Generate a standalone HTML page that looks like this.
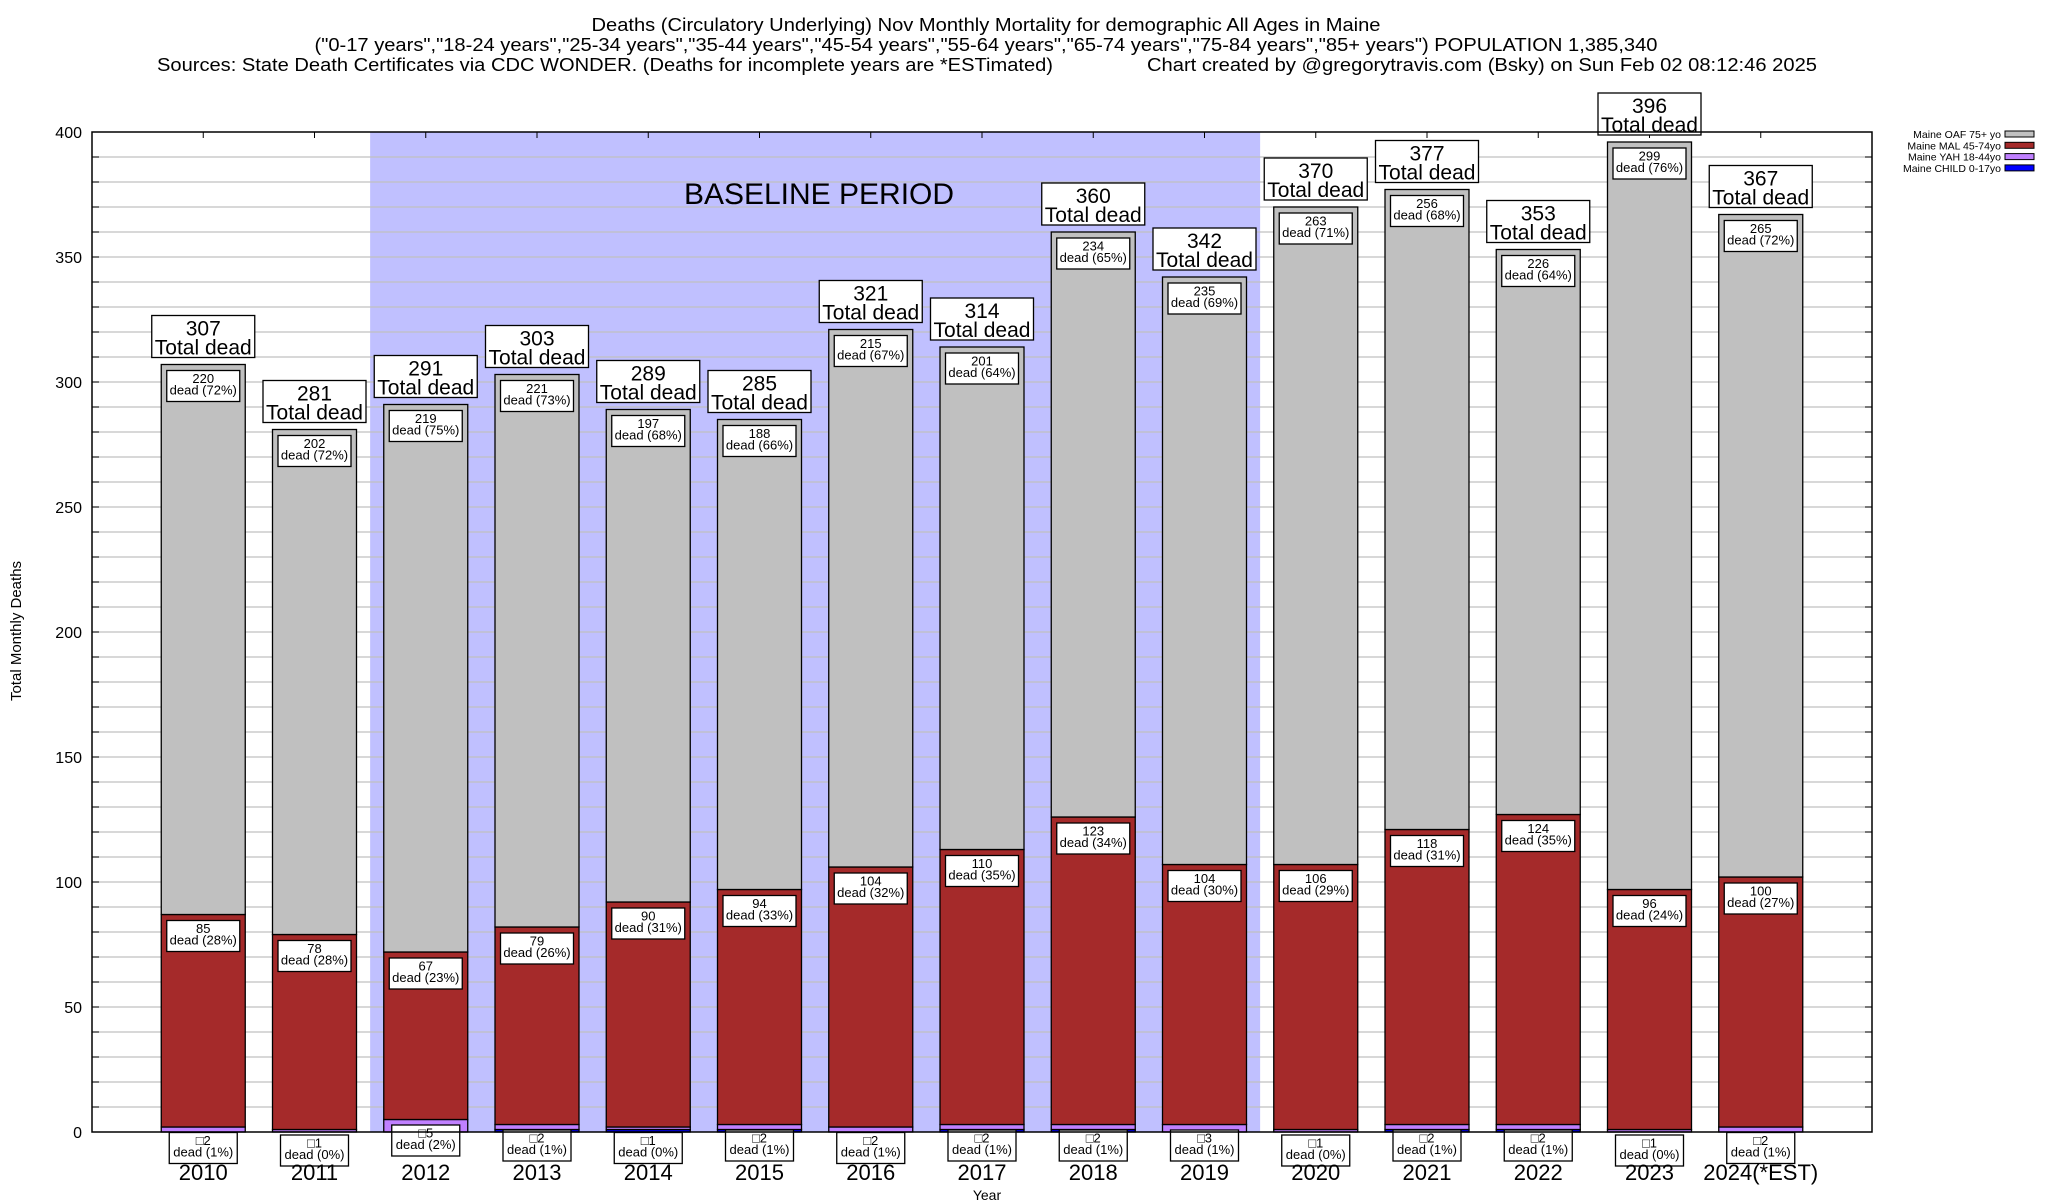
<!DOCTYPE html>
<html><head><meta charset="utf-8"><style>
html,body{margin:0;padding:0;background:#fff}
svg{display:block;font-family:"Liberation Sans",sans-serif}
</style></head><body>
<svg id="chart" width="2048" height="1200" viewBox="0 0 2048 1200" xmlns="http://www.w3.org/2000/svg">
<g>
<text x="986" y="31" font-size="18" text-anchor="middle" textLength="789" lengthAdjust="spacingAndGlyphs">Deaths (Circulatory Underlying) Nov Monthly Mortality for demographic All Ages in Maine</text>
<text x="986" y="51" font-size="18" text-anchor="middle" textLength="1343" lengthAdjust="spacingAndGlyphs">("0-17 years","18-24 years","25-34 years","35-44 years","45-54 years","55-64 years","65-74 years","75-84 years","85+ years") POPULATION 1,385,340</text>
<text x="157" y="71" font-size="18" textLength="896" lengthAdjust="spacingAndGlyphs">Sources: State Death Certificates via CDC WONDER. (Deaths for incomplete years are *ESTimated)</text>
<text x="1147" y="71" font-size="18" textLength="670" lengthAdjust="spacingAndGlyphs">Chart created by @gregorytravis.com (Bsky) on Sun Feb 02 08:12:46 2025</text>
</g>
<g id="plot"></g>
<text x="987" y="1200" font-size="14" text-anchor="middle">Year</text>
<text transform="translate(21,631) rotate(-90)" font-size="15" text-anchor="middle">Total Monthly Deaths</text>
</svg>
<script>
const years = ["2010","2011","2012","2013","2014","2015","2016","2017","2018","2019","2020","2021","2022","2023","2024(*EST)"];
const child = [0,0,0,1,1,1,0,1,1,0,0,1,1,0,0];
const yah = [2,1,5,2,1,2,2,2,2,3,1,2,2,1,2];
const mal = [85,78,67,79,90,94,104,110,123,104,106,118,124,96,100];
const oaf = [220,202,219,221,197,188,215,201,234,235,263,256,226,299,265];
const totals = [307,281,291,303,289,285,321,314,360,342,370,377,353,396,367];
const yahPct = ["1%","0%","2%","1%","0%","1%","1%","1%","1%","1%","0%","1%","1%","0%","1%"];
const malPct = ["28%","28%","23%","26%","31%","33%","32%","35%","34%","30%","29%","31%","35%","24%","27%"];
const oafPct = ["72%","72%","75%","73%","68%","66%","67%","64%","65%","69%","71%","68%","64%","76%","72%"];
const yTicks = [0,50,100,150,200,250,300,350,400];
const baselineStart = 2, baselineEnd = 9;

const NS="http://www.w3.org/2000/svg";
const L=92,R=1872,T=132,B=1132;
const slot=(R-L)/(years.length+1);
const xc=i=>L+slot*(i+1);
const y=v=>B-(v/400)*(B-T);
const bw=84;
const plot=document.getElementById('plot');
function mk(tag,attrs,parent,txt){const e=document.createElementNS(NS,tag);for(const k in attrs)e.setAttribute(k,attrs[k]);if(txt!==undefined)e.textContent=txt;(parent||plot).appendChild(e);return e;}

const bs=mk('rect',{x:xc(baselineStart)-slot/2,y:T,width:slot*(baselineEnd-baselineStart+1),height:B-T,fill:'#c0c0ff'});


for(let v=10;v<400;v+=10){
  const g=mk('line',{x1:L,x2:R,y1:y(v),y2:y(v),stroke:'#c0c0c0','stroke-width':1.3});
  
  
  mk('line',{x1:L,x2:L+7,y1:y(v),y2:y(v),stroke:'#000'});
  mk('line',{x1:R-7,x2:R,y1:y(v),y2:y(v),stroke:'#000'});
}
const bt=mk('text',{x:819,y:204,'font-size':30,'text-anchor':'middle'},plot,'BASELINE PERIOD');


yTicks.forEach(v=>{
  const t=mk('text',{x:82,y:y(v)+6,'font-size':16,'text-anchor':'end'},plot,String(v));
  
  
});
function box(cx,top,w,h,lines,fs,name){
  const g=mk('g',{});
  
  
  mk('rect',{x:cx-w/2,y:top,width:w,height:h,fill:'#fff',stroke:'#000','stroke-width':1.3},g);
  const b1=top+fs*0.95, b2=top+fs*1.85;
  mk('text',{x:cx,y:b1,'font-size':fs,'text-anchor':'middle'},g,lines[0]);
  mk('text',{x:cx,y:b2,'font-size':fs,'text-anchor':'middle'},g,lines[1]);
}
years.forEach((yr,i)=>{
  const cx=xc(i);
  const segs=[[child[i],'#0000ff','child'],[yah[i],'#c080ff','yah'],[mal[i],'#a52a2a','mal'],[oaf[i],'#c0c0c0','oaf']];
  let acc=0;const tops=[];
  segs.forEach(s=>{
    const r=mk('rect',{x:cx-bw/2,y:y(acc+s[0]),width:bw,height:y(acc)-y(acc+s[0]),fill:s[1],stroke:'#000','stroke-width':1.3});
    
    
    acc+=s[0];tops.push(y(acc));
  });
  mk('line',{x1:cx,x2:cx,y1:T,y2:T+6,stroke:'#000'});
  box(cx,tops[3]+6,73,31,[String(oaf[i]),'dead ('+oafPct[i]+')'],13,'oaf-label-'+yr);
  box(cx,tops[2]+6,73,31,[String(mal[i]),'dead ('+malPct[i]+')'],13,'mal-label-'+yr);
  box(cx,tops[1]+5.5,68,31,['\u25a1'+yah[i],'dead ('+yahPct[i]+')'],13,'yah-label-'+yr);
  box(cx,y(totals[i])-49,103,42,[String(totals[i]),'Total dead'],21,'total-label-'+yr);
  const t=mk('text',{x:cx,y:1180,'font-size':22,'text-anchor':'middle'},plot,yr);
  
  
});
const fr=mk('rect',{x:L,y:T,width:R-L,height:B-T,fill:'none',stroke:'#000','stroke-width':1.5});


const legNames=["Maine OAF 75+ yo","Maine MAL 45-74yo","Maine YAH 18-44yo","Maine CHILD 0-17yo"];
const legCols=['#c0c0c0','#a52a2a','#c080ff','#0000ff'];
legNames.forEach((n,k)=>{
  const g=mk('g',{});
  
  
  const yy=138+k*11.3;
  mk('text',{x:2001,y:yy,'font-size':10.5,'text-anchor':'end'},g,n);
  mk('rect',{x:2005,y:yy-7,width:29,height:6,fill:legCols[k],stroke:'#000','stroke-width':1},g);
});
</script>
</body></html>
